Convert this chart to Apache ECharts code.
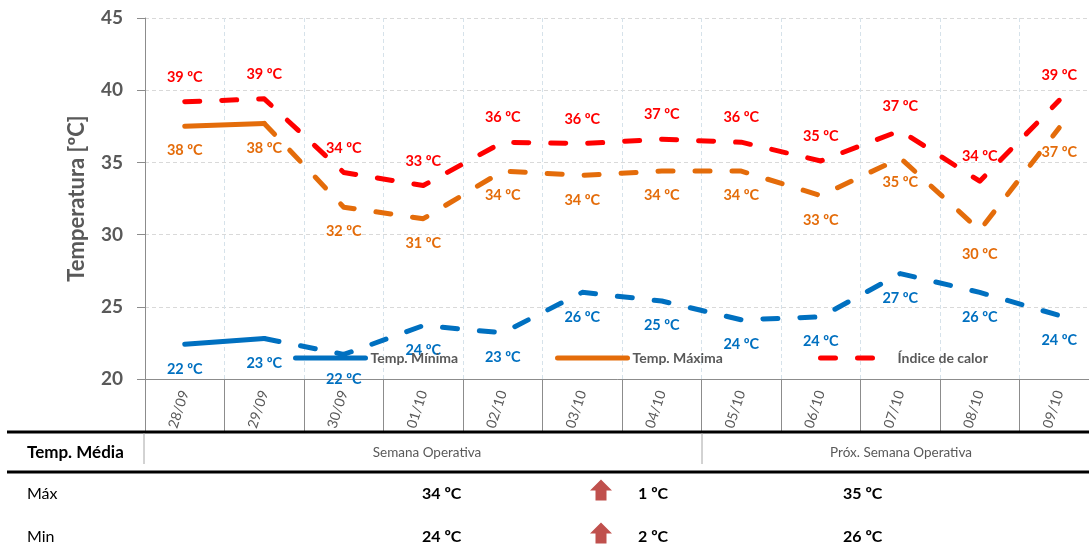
<!DOCTYPE html>
<html>
<head>
<meta charset="utf-8">
<script src="https://cdn.jsdelivr.net/npm/echarts@6/dist/echarts.min.js"></script>
<style>
  html, body { margin: 0; padding: 0; background: #ffffff; }
  #chart { width: 1089px; height: 554px; }
</style>
</head>
<body>
<div id="chart"></div>
<script>
// Daily forecast, in ºC
const days = ['28/09', '29/09', '30/09', '01/10', '02/10', '03/10', '04/10', '05/10', '06/10', '07/10', '08/10', '09/10'];
const tempMin = [22.4, 22.8, 21.7, 23.7, 23.2, 26.0, 25.4, 24.1, 24.3, 27.3, 26.0, 24.4];
const tempMax = [37.5, 37.7, 31.9, 31.1, 34.4, 34.1, 34.4, 34.4, 32.7, 35.3, 30.3, 37.4];
const heatIndex = [39.2, 39.4, 34.3, 33.4, 36.4, 36.3, 36.6, 36.4, 35.1, 37.2, 33.7, 39.3];

// Value axis
const yMin = 20;
const yMax = 45;
const yStep = 5;

// Weekly averages table
const periods = ['Semana Operativa', 'Próx. Semana Operativa'];
const tableRows = ['Máx', 'Min'];
const weekAvg = [34, 24];
const weekDelta = [1, 2];
const nextWeekAvg = [35, 26];

const FONT = 'Lato';
const GREY = '#595959';
const AXIS = '#8c8c8c';
const DASH = [15, 22];

function fmt(p) { return Math.round(p.value) + ' ºC'; }

function labelStyle(color, pos) {
  return {
    show: true, position: pos, distance: 17,
    color: color, fontFamily: FONT, fontWeight: 'bold', fontSize: 14.5,
    formatter: fmt
  };
}

function lineStyle(color, dashed) {
  return { width: 5, color: color, type: dashed ? DASH : 'solid', cap: 'round', join: 'round' };
}

// Invisible point markers: the lines carry no symbols, only value labels
const POINT = { symbol: 'circle', symbolSize: 0, showSymbol: true };

// Line whose first day-to-day segment is solid and the rest dashed
function splitLine(name, values, color, pos) {
  const lbl = labelStyle(color, pos);
  return [
    Object.assign({
      type: 'line', name: name, color: color, z: 3,
      lineStyle: lineStyle(color, false),
      label: Object.assign({}, lbl, { show: false }),
      data: values.map((v, i) => i === 0 ? { value: v, label: { show: true } } : (i === 1 ? v : '-'))
    }, POINT),
    Object.assign({
      type: 'line', name: name, color: color, z: 3,
      lineStyle: lineStyle(color, true),
      label: lbl,
      data: values.map((v, i) => i === 0 ? '-' : v)
    }, POINT)
  ];
}

const BLUE = '#0070c0';
const ORANGE = '#e46c0a';
const RED = '#ff0000';

const series = [].concat(
  splitLine('Temp. Mínima', tempMin, BLUE, 'bottom'),
  splitLine('Temp. Máxima', tempMax, ORANGE, 'bottom'),
  [Object.assign({
    type: 'line', name: 'Índice de calor', color: RED, z: 4,
    lineStyle: lineStyle(RED, true),
    label: labelStyle(RED, 'top'),
    data: heatIndex
  }, POINT)]
);

const legendText = { fontFamily: FONT, fontWeight: 'bold', fontSize: 14, color: GREY };
const legends = [
  { name: 'Temp. Mínima', left: 293, width: 70, pad: 0 },
  { name: 'Temp. Máxima', left: 555, width: 70, pad: 0 },
  { name: 'Índice de calor', left: 818, width: 58, pad: 14 }
].map(l => ({
  data: [l.name], left: l.left, top: 351, padding: 0,
  itemWidth: l.width, itemHeight: 14, selectedMode: false,
  itemStyle: { opacity: 0 },
  lineStyle: { width: 5, cap: 'round' },
  textStyle: Object.assign({ padding: [0, 0, 0, l.pad] }, legendText)
}));

// Table below the chart
const graphics = [];
const RULE_X0 = 7, RULE_X1 = 1089;
[432, 472].forEach(y => graphics.push({
  type: 'line', shape: { x1: RULE_X0, y1: y, x2: RULE_X1, y2: y },
  style: { stroke: '#000', lineWidth: 3 }, z: 100
}));
[144, 702].forEach(x => graphics.push({
  type: 'line', shape: { x1: x, y1: 433, x2: x, y2: 464 },
  style: { stroke: '#a6a6a6', lineWidth: 1 }, z: 100
}));
graphics.push({
  type: 'text', x: 27, y: 453, z: 100,
  style: { text: 'Temp. Média', fill: '#000', fontFamily: FONT, fontWeight: 'bold', fontSize: 17, verticalAlign: 'middle' }
});
[427, 901].forEach((cx, i) => graphics.push({
  type: 'text', x: cx, y: 453, z: 100,
  style: { text: periods[i], fill: GREY, fontFamily: FONT, fontSize: 13.5, align: 'center', verticalAlign: 'middle' }
}));
const rowY = [494, 537];
tableRows.forEach((row, i) => {
  const y = rowY[i];
  const bold = { fill: '#000', fontFamily: FONT, fontWeight: 'bold', fontSize: 16, verticalAlign: 'middle' };
  graphics.push({ type: 'text', x: 27, y: y, z: 100,
    style: { text: row, fill: '#000', fontFamily: FONT, fontSize: 16, verticalAlign: 'middle' } });
  graphics.push({ type: 'text', x: 422, y: y, z: 100, style: Object.assign({ text: weekAvg[i] + ' ºC' }, bold) });
  graphics.push({ type: 'text', x: 638, y: y, z: 100, style: Object.assign({ text: Math.abs(weekDelta[i]) + ' ºC' }, bold) });
  graphics.push({ type: 'text', x: 843, y: y, z: 100, style: Object.assign({ text: nextWeekAvg[i] + ' ºC' }, bold) });
  const up = weekDelta[i] >= 0;
  graphics.push({
    type: 'polygon', x: 601, y: y - 3.5, originX: 0, originY: 0, rotation: up ? 0 : Math.PI, z: 100,
    shape: { points: [[0, -11], [11, 0], [5.5, 0], [5.5, 10], [-5.5, 10], [-5.5, 0], [-11, 0]] },
    style: { fill: '#c0504d' }
  });
});

const chart = echarts.init(document.getElementById('chart'), null, { renderer: 'canvas' });
chart.setOption({
  animation: false,
  backgroundColor: '#ffffff',
  grid: { left: 145, top: 18, width: 954, height: 361, containLabel: false, outerBoundsMode: 'none' },
  legend: legends,
  xAxis: {
    type: 'category', data: days, boundaryGap: true,
    axisLine: { lineStyle: { color: AXIS, width: 1 } },
    axisTick: { show: true, length: 53, lineStyle: { color: AXIS } },
    axisLabel: { rotate: 72, margin: 12, color: GREY, fontFamily: FONT, fontSize: 14 },
    splitLine: { show: true, lineStyle: { color: '#d6e2ea', type: [4, 3] } }
  },
  yAxis: {
    type: 'value', min: yMin, max: yMax, interval: yStep,
    name: 'Temperatura [ºC]', nameLocation: 'middle', nameGap: 57,
    nameTextStyle: { color: GREY, fontFamily: FONT, fontWeight: 'bold', fontSize: 22 },
    axisLine: { show: true, lineStyle: { color: AXIS, width: 1 } },
    axisTick: { show: true, length: 8, lineStyle: { color: AXIS } },
    axisLabel: { margin: 22, color: GREY, fontFamily: FONT, fontWeight: 'bold', fontSize: 19 },
    splitLine: { show: true, lineStyle: { color: '#d9d9d9', type: [4, 3] } }
  },
  series: series,
  graphic: graphics
});
</script>
</body>
</html>
